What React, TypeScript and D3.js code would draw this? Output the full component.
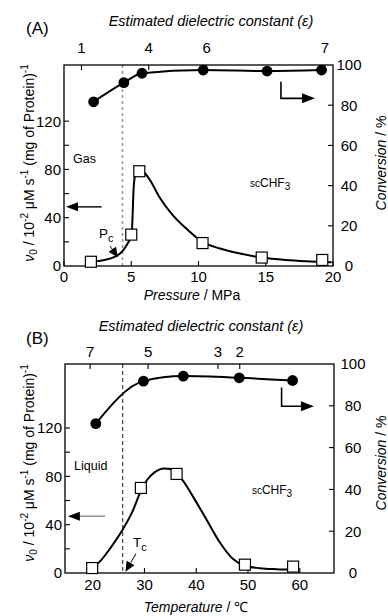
import React from "react";
import * as d3 from "d3";

// ---------- data ----------
const pressureTicks = [0, 5, 10, 15, 20];
const temperatureTicks = [20, 30, 40, 50, 60];
const activityTicks = [20, 40, 60, 80, 100, 120];
const activityLabels = [0, 40, 80, 120];
const conversionTicks = [20, 40, 60, 80];
const conversionLabels = [0, 20, 40, 60, 80, 100];

const dielectricLabelsA = ["1", "4", "6", "7"];
const dielectricPressures = [1.3, 6.3, 10.6, 19.4];
const dielectricLabelsB = ["7", "5", "3", "2"];
const dielectricTemperatures = [19.5, 30.7, 44.2, 48.4];

// Panel A (pressure)
const pressureSquares = [2.0, 5.0, 5.6, 10.3, 14.7, 19.2];
const activityA = [3.5, 26, 78.5, 19, 7, 5];
const pressureCircles = [2.2, 4.45, 5.8, 10.35, 15.1, 19.15];
const conversionA = [81.7, 91.2, 95.9, 97.5, 97.0, 97.5];
const fitPressure = [2.0, 3.0, 3.8, 4.4, 4.75, 5.03, 5.1, 5.17, 5.28, 5.45, 5.65, 6.0, 6.4, 7.1, 8.1, 9.1, 10.3, 11.6, 13.0, 14.7, 16.5, 18.0, 19.9];
const fitActivityA = [3.5, 5, 7.7, 13, 19, 26, 42, 63, 75, 79.5, 80, 77, 71, 57, 42, 31, 20, 14.5, 10.5, 7, 5, 4, 3.2];

// Panel B (temperature)
const temperatureSquares = [19.9, 29.3, 36.2, 49.4, 58.7];
const activityB = [4.1, 70.4, 82, 6.9, 5.3];
const temperatureCircles = [20.6, 29.8, 37.5, 48.3, 58.6];
const conversionB = [71.5, 91.8, 94.2, 93.4, 92.1];
const fitTemperature = [19.9, 21.5, 23.3, 25.6, 27.8, 29.3, 30.5, 32.0, 33.8, 35.0, 36.2, 37.5, 39.4, 42.0, 44.6, 47.1, 49.4, 52.3, 55.5, 59.4];
const fitActivityB = [4.1, 10, 20, 34.5, 52, 68, 77, 83.5, 86.5, 86, 82.5, 76, 63, 44, 25, 11.5, 6, 4, 3.2, 2.8];

const FONT = "'Liberation Sans', Arial, Helvetica, sans-serif";

type Cfg = {
  left: number; right: number; top: number; bottom: number;
  xDomain: [number, number]; yLeftMax: number;
  xTicks: number[];
  topLabels: string[]; topPos: number[]; topLabelY: number;
  tag: string; tagX: number; tagY: number;
  dielTitleX: number; dielTitleY: number;
  bottomLabelY: number; xTitleX: number; xTitleY: number;
  xTitleItalic: string; xTitleRest: string;
  titleCY: number; rightLabelX: number;
  sqX: number[]; sqY: number[]; ciX: number[]; ciY: number[];
  fitX: number[]; fitY: number[];
  dashX: number; dashColor: string; dashArray: string; dashWidth: number;
  phase: string; phaseX: number; phaseY: number;
  scX: number; scY: number;
  critLetter: string; critX: number; critY: number;
  critArrow: [number, number, number, number];
  leftArrow: [number, number, number]; leftArrowColor: string;
  rightArrow: [number, number, number, number];
};

function Head({ x1, y1, x2, y2, len = 10, half = 4 }: any) {
  const a = Math.atan2(y2 - y1, x2 - x1);
  const bx = x2 - len * Math.cos(a), by = y2 - len * Math.sin(a);
  const px = -Math.sin(a) * half, py = Math.cos(a) * half;
  return <polygon points={`${x2},${y2} ${bx + px},${by + py} ${bx - px},${by - py}`} fill="#000" />;
}

function Panel({ c }: { c: Cfg }) {
  const x = d3.scaleLinear().domain(c.xDomain).range([c.left, c.right]);
  const yL = d3.scaleLinear().domain([0, c.yLeftMax]).range([c.bottom, c.top]);
  const yR = d3.scaleLinear().domain([0, 100]).range([c.bottom, c.top]);
  const fitPts: [number, number][] = c.fitX.map((v, i) => [v, c.fitY[i]]);
  const convPts: [number, number][] = c.ciX.map((v, i) => [v, c.ciY[i]]);
  const fitLine = d3.line<[number, number]>().x(d => x(d[0])).y(d => yL(d[1])).curve(d3.curveMonotoneX);
  const convLine = d3.line<[number, number]>().x(d => x(d[0])).y(d => yR(d[1])).curve(d3.curveMonotoneX);
  const T = 5;
  const sq = 11;

  const [cax1, cay1, cax2, cay2] = c.critArrow;
  const ca = { x1: x(cax1), y1: yL(cay1), x2: x(cax2), y2: yL(cay2) };
  const [lv, lx1, lx2] = c.leftArrow;
  const [rx, ry1, ry2, rx2] = c.rightArrow;

  return (
    <g fontFamily={FONT} fill="#000">
      <line x1={x(c.dashX)} x2={x(c.dashX)} y1={c.top} y2={c.bottom} stroke={c.dashColor} strokeWidth={c.dashWidth} strokeDasharray={c.dashArray} />
      <rect x={c.left} y={c.top} width={c.right - c.left} height={c.bottom - c.top} fill="none" stroke="#000" strokeWidth={1.3} />
      {c.xTicks.map(t => (
        <g key={"b" + t}>
          <line x1={x(t)} x2={x(t)} y1={c.bottom} y2={c.bottom - T} stroke="#000" strokeWidth={1.1} />
          <text x={x(t)} y={c.bottomLabelY} fontSize={15} textAnchor="middle">{t}</text>
        </g>
      ))}
      {c.topPos.map((p, i) => (
        <g key={"t" + i}>
          <line x1={x(p)} x2={x(p)} y1={c.top} y2={c.top + T} stroke="#000" strokeWidth={1.1} />
          <text x={x(p)} y={c.topLabelY} fontSize={15} textAnchor="middle">{c.topLabels[i]}</text>
        </g>
      ))}
      {activityTicks.map(t => (
        <line key={"l" + t} x1={c.left} x2={c.left + T} y1={yL(t)} y2={yL(t)} stroke="#000" strokeWidth={1.1} />
      ))}
      {activityLabels.map(t => (
        <text key={"ll" + t} x={c.left - 3} y={yL(t)} dy="0.36em" fontSize={15} textAnchor="end">{t}</text>
      ))}
      {conversionTicks.map(t => (
        <line key={"r" + t} x1={c.right} x2={c.right - T} y1={yR(t)} y2={yR(t)} stroke="#000" strokeWidth={1.1} />
      ))}
      {conversionLabels.map(t => (
        <text key={"rl" + t} x={c.right + c.rightLabelX} y={yR(t)} dy="0.36em" fontSize={15} textAnchor="middle">{t}</text>
      ))}

      <path d={fitLine(fitPts) || ""} fill="none" stroke="#000" strokeWidth={2} />
      <path d={convLine(convPts) || ""} fill="none" stroke="#000" strokeWidth={2} />
      {c.ciX.map((v, i) => (
        <circle key={"c" + i} cx={x(v)} cy={yR(c.ciY[i])} r={5.4} fill="#000" />
      ))}
      {c.sqX.map((v, i) => (
        <rect key={"s" + i} x={x(v) - sq / 2} y={yL(c.sqY[i]) - sq / 2} width={sq} height={sq} fill="#fff" stroke="#000" strokeWidth={1.2} />
      ))}

      <text x={x(c.phaseX)} y={yL(c.phaseY)} fontSize={12.5}>{c.phase}</text>
      <text x={x(c.scX)} y={yL(c.scY)} fontSize={12}>
        <tspan fontSize={10}>sc</tspan>CHF<tspan fontSize={10} dy={3}>3</tspan>
      </text>
      <text x={x(c.critX)} y={yL(c.critY)} fontSize={13.5}>
        {c.critLetter}<tspan fontSize={11} dy={4}>c</tspan>
      </text>
      <line x1={ca.x1} y1={ca.y1} x2={ca.x2 - (ca.x2 - ca.x1) * 0.5} y2={ca.y2 - (ca.y2 - ca.y1) * 0.5} stroke="#000" strokeWidth={1} />
      <Head x1={ca.x1} y1={ca.y1} x2={ca.x2} y2={ca.y2} len={10} half={4.5} />

      <line x1={x(lx1)} x2={x(lx2) + 9} y1={yL(lv)} y2={yL(lv)} stroke={c.leftArrowColor} strokeWidth={1.4} />
      <Head x1={x(lx1)} y1={yL(lv)} x2={x(lx2)} y2={yL(lv)} len={12} half={4.5} />

      <polyline points={`${x(rx)},${yR(ry1)} ${x(rx)},${yR(ry2)} ${x(rx2) - 9},${yR(ry2)}`} fill="none" stroke="#000" strokeWidth={1.6} />
      <Head x1={x(rx)} y1={yR(ry2)} x2={x(rx2)} y2={yR(ry2)} len={13} half={5} />

      <text x={c.tagX} y={c.tagY} fontSize={17}>{c.tag}</text>
      <text x={c.dielTitleX} y={c.dielTitleY} fontSize={14.5} textAnchor="middle" fontStyle="italic">
        Estimated dielectric constant (ε)
      </text>
      <text x={c.xTitleX} y={c.xTitleY} fontSize={14} textAnchor="middle">
        <tspan fontStyle="italic">{c.xTitleItalic}</tspan>{c.xTitleRest}
      </text>
      <text transform={`translate(34,${c.titleCY}) rotate(-90)`} fontSize={14} textAnchor="middle">
        <tspan fontStyle="italic">ν</tspan><tspan fontSize={10} dy={3}>0</tspan>
        <tspan dy={-3}> / 10</tspan><tspan fontSize={10} dy={-6}>-2</tspan>
        <tspan dy={6}> μM s</tspan><tspan fontSize={10} dy={-6}>-1</tspan>
        <tspan dy={6}> (mg of Protein)</tspan><tspan fontSize={10} dy={-6}>-1</tspan>
      </text>
      <text transform={`translate(386,${c.titleCY}) rotate(-90)`} fontSize={14} textAnchor="middle">
        <tspan fontStyle="italic">Conversion</tspan> / %
      </text>
    </g>
  );
}

const cfgA: Cfg = {
  left: 64, right: 333, top: 65, bottom: 266,
  xDomain: [0, 20], yLeftMax: 166.5, xTicks: pressureTicks,
  topLabels: dielectricLabelsA, topPos: dielectricPressures, topLabelY: 53,
  tag: "(A)", tagX: 26, tagY: 34,
  dielTitleX: 211, dielTitleY: 26,
  bottomLabelY: 282, xTitleX: 192, xTitleY: 300,
  xTitleItalic: "Pressure", xTitleRest: " / MPa",
  titleCY: 163, rightLabelX: 16,
  sqX: pressureSquares, sqY: activityA, ciX: pressureCircles, ciY: conversionA,
  fitX: fitPressure, fitY: fitActivityA,
  dashX: 4.35, dashColor: "#999", dashArray: "3,3", dashWidth: 1.6,
  phase: "Gas", phaseX: 0.67, phaseY: 85.3,
  scX: 13.83, scY: 65.4,
  critLetter: "P", critX: 2.6, critY: 23.2,
  critArrow: [3.42, 16.6, 4.01, 7.0],
  leftArrow: [49, 2.8, 0.15], leftArrowColor: "#000",
  rightArrow: [16.13, 91.7, 83.4, 18.66],
};

const cfgB: Cfg = {
  left: 65, right: 334, top: 364, bottom: 573,
  xDomain: [14.65, 66.6], yLeftMax: 173, xTicks: temperatureTicks,
  topLabels: dielectricLabelsB, topPos: dielectricTemperatures, topLabelY: 357,
  tag: "(B)", tagX: 26, tagY: 344,
  dielTitleX: 201, dielTitleY: 331,
  bottomLabelY: 590, xTitleX: 196, xTitleY: 612,
  xTitleItalic: "Temperature", xTitleRest: " / ℃",
  titleCY: 463, rightLabelX: 19,
  sqX: temperatureSquares, sqY: activityB, ciX: temperatureCircles, ciY: conversionB,
  fitX: fitTemperature, fitY: fitActivityB,
  dashX: 25.8, dashColor: "#000", dashArray: "4,3", dashWidth: 0.9,
  phase: "Liquid", phaseX: 16.39, phaseY: 85.1,
  scX: 50.75, scY: 65.6,
  critLetter: "T", critX: 27.78, critY: 21.8,
  critArrow: [28.36, 16, 26.33, 1.1],
  leftArrow: [47, 22.4, 15.2], leftArrowColor: "#888",
  rightArrow: [56.48, 88.7, 79.8, 62.72],
};

export default function App() {
  return (
    <svg width={388} height={616} viewBox="0 0 388 616"
      style={{ position: "absolute", left: 0, top: 0, background: "#fff" }}>
      <rect x={0} y={0} width={388} height={616} fill="#fff" />
      <Panel c={cfgA} />
      <Panel c={cfgB} />
    </svg>
  );
}
